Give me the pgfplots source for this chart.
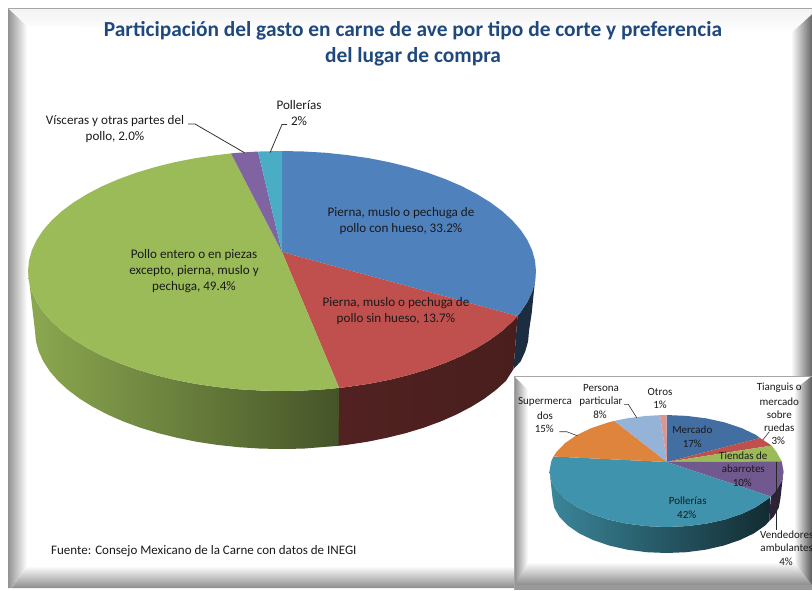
\documentclass[border=0pt]{standalone}
\usepackage{fontspec}
\setmainfont{Carlito}
\usepackage{pgfplots}
\pgfplotsset{compat=1.18}
\definecolor{mblue}{HTML}{4F81BD}
\definecolor{mred}{HTML}{C0504D}
\definecolor{mgreen}{HTML}{9BBB59}
\definecolor{mpurple}{HTML}{8064A2}
\definecolor{mcyan}{HTML}{4BACC6}
\definecolor{ttl}{HTML}{1F497D}
\definecolor{txt}{HTML}{1A1A1A}
\definecolor{inorange}{HTML}{DF843D}
\definecolor{inteal}{HTML}{3F93AD}
\newcommand{\lab}[3]{\node[inner sep=0pt,text=txt,font=\fontsize{13.1}{15}\selectfont] at (axis cs:#1,#2) {#3};}
\newcommand{\labs}[3]{\node[inner sep=0pt,text=txt,font=\fontsize{11}{13}\selectfont] at (axis cs:#1,#2) {#3};}
\begin{document}
\begin{tikzpicture}
\useasboundingbox (0,0) rectangle (812pt,590pt);
\begin{axis}[at={(0,0)},anchor=south west,scale only axis,width=812pt,height=590pt,
  xmin=0,xmax=812,ymin=0,ymax=590,y dir=reverse,axis lines=none,clip=false,no markers]
% ---------- main frame
\addplot[draw=none,left color=gray!85,right color=white] coordinates {(8,8)(27,26)(27,566)(12,588)(8,588)};
\addplot[draw=none,top color=white,bottom color=gray!90] coordinates {(27,566)(791,566)(812,588)(12,588)};
\addplot[draw=none,left color=white,right color=black!60] coordinates {(791,33)(812,14)(812,588)(791,566)};
\addplot[draw=none,top color=gray!10,bottom color=white] coordinates {(8,8)(812,8)(812,14)(791,33)(27,26)};
\addplot[gray!70,line width=0.8pt] coordinates {(8,8)(812,8)};
% ---------- main pie sides
\addplot[draw=none,fill=black!65!mblue] coordinates {(517.5,316)(520.7,312)(527.3,302.1)(532.1,291.8)(535,281.5)(536,271)(531.7,313)(529,331)(528.1,341.3)(525.2,351.5)(520.6,361.5)(513.5,369)};
\addplot[draw=none,left color=black!58!mred,right color=black!62!mred] coordinates {(339.1,387.9)(347.7,386.9)(368.9,383.8)(389.3,379.8)(409,374.9)(427.7,369.3)(445.3,362.9)(461.6,355.9)(476.6,348.1)(490.1,339.8)(502,331)(512.2,321.7)(517.5,316)(513.5,369)(505.9,380.9)(495.9,390)(484.3,398.7)(471.2,406.8)(456.7,414.4)(440.8,421.4)(423.7,427.7)(405.5,433.2)(386.4,437.9)(366.5,441.9)(345.9,445)(338.5,445.8)};
\addplot[draw=none,left color=black!10!mgreen,middle color=black!30!mgreen,right color=black!55!mgreen] coordinates {(28,271)(29,281.5)(31.9,291.8)(36.7,302.1)(43.3,312)(51.8,321.7)(62,331)(73.9,339.8)(87.4,348.1)(102.4,355.9)(118.7,362.9)(136.3,369.3)(155,374.9)(174.7,379.8)(195.1,383.8)(216.3,386.9)(237.9,389.2)(259.9,390.5)(282,391)(304.1,390.5)(326.1,389.2)(339.1,387.9)(338.5,445.8)(303.5,448.6)(282,449)(260.5,448.6)(239.1,447.2)(218.1,445)(197.5,441.9)(177.6,437.9)(158.5,433.2)(140.3,427.7)(123.2,421.4)(107.3,414.4)(92.8,406.8)(79.7,398.7)(68.1,390)(58.1,380.9)(49.9,371.4)(43.4,361.5)(38.8,351.5)(35.9,341.3)(35,331)};
% ---------- main pie top
\addplot[draw=none,fill=mblue] coordinates {(282,252)(282,151)(304.1,151.5)(326.1,152.8)(347.7,155.1)(368.9,158.2)(389.3,162.2)(409,167.1)(427.7,172.7)(445.3,179.1)(461.6,186.1)(476.6,193.9)(490.1,202.2)(502,211)(512.2,220.3)(520.7,230)(527.3,239.9)(532.1,250.2)(535,260.5)(536,271)(535,281.5)(532.1,291.8)(527.3,302.1)(520.7,312)(517.5,316)};
\addplot[draw=none,fill=mred] coordinates {(282,252)(517.5,316)(512.2,321.7)(502,331)(490.1,339.8)(476.6,348.1)(461.6,355.9)(445.3,362.9)(427.7,369.3)(409,374.9)(389.3,379.8)(368.9,383.8)(347.7,386.9)(339.1,387.9)};
\addplot[draw=none,fill=mgreen] coordinates {(282,252)(339.1,387.9)(326.1,389.2)(304.1,390.5)(282,391)(259.9,390.5)(237.9,389.2)(216.3,386.9)(195.1,383.8)(174.7,379.8)(155,374.9)(136.3,369.3)(118.7,362.9)(102.4,355.9)(87.4,348.1)(73.9,339.8)(62,331)(51.8,321.7)(43.3,312)(36.7,302.1)(31.9,291.8)(29,281.5)(28,271)(29,260.5)(31.9,250.2)(36.7,239.9)(43.3,230)(51.8,220.3)(62,211)(73.9,202.2)(87.4,193.9)(102.4,186.1)(118.7,179.1)(136.3,172.7)(155,167.1)(174.7,162.2)(195.1,158.2)(216.3,155.1)(231,153.4)};
\addplot[draw=none,fill=mpurple] coordinates {(282,252)(231,153.4)(237.9,152.8)(258,151.5)};
\addplot[draw=none,fill=mcyan] coordinates {(282,252)(258,151.5)(259.9,151.5)(282,151)};
% ---------- main leaders
\addplot[black!80,line width=0.8pt] coordinates {(188,124)(195,124)(245,153)};
\addplot[black!80,line width=0.8pt] coordinates {(287,124.5)(282,124.5)(270,152.7)};
% ---------- inset frame
\addplot[draw=none,fill=white] coordinates {(514,376)(812,376)(812,590)(514,590)};
\addplot[draw=none,left color=gray!90,right color=white] coordinates {(514,376)(528,390)(528,562)(514,590)};
\addplot[draw=none,left color=white,right color=black!65] coordinates {(794,390)(812,376)(812,590)(794,562)};
\addplot[draw=none,top color=white,bottom color=gray!90] coordinates {(528,562)(794,562)(812,585)(516,585)};
\addplot[draw=none,fill=gray!80] coordinates {(514,585)(812,585)(812,590)(514,590)};
\addplot[gray!70,line width=0.8pt] coordinates {(514,590)(514,376)(812,376)};
% ---------- inset sides
\addplot[draw=none,fill=black!65!mpurple] coordinates {(770.7,496.4)(776.4,490.2)(781.7,480.7)(783.5,471)(780.5,498)(778.8,507.6)(773.6,516.8)(769.3,521)};
\addplot[draw=none,left color=black!22!mcyan,middle color=black!50!mcyan,right color=black!75!mcyan] coordinates {(549.5,471)(551.3,480.7)(556.6,490.2)(565.2,499)(576.9,507)(591.3,513.9)(608,519.5)(626.5,523.6)(646.2,526.1)(666.5,527)(686.8,526.1)(706.5,523.6)(725,519.5)(741.7,513.9)(756.1,507)(767.8,499)(770.7,496.4)(769.3,521)(765.2,525.5)(753.8,533.4)(739.8,540.1)(723.5,545.6)(705.5,549.7)(686.3,552.2)(666.5,553)(646.7,552.2)(627.5,549.7)(609.5,545.6)(593.2,540.1)(579.2,533.4)(567.8,525.5)(559.4,516.8)(554.2,507.6)(552.5,498)};
% ---------- inset top
\addplot[draw=none,fill=black!15!mblue] coordinates {(667,462)(666.5,415)(686.8,415.9)(706.5,418.4)(725,422.5)(741.7,428.1)(756.1,435)(760,438)};
\addplot[draw=none,fill=mred] coordinates {(667,462)(760,438)(767.8,443)(771.5,445.6)};
\addplot[draw=none,fill=mgreen] coordinates {(667,462)(771.5,445.6)(776.4,451.8)(781.7,461.3)};
\addplot[draw=none,fill=black!12!mpurple] coordinates {(667,462)(781.7,461.3)(783.5,471)(781.7,480.7)(776.4,490.2)(770.7,496.4)};
\addplot[draw=none,fill=inteal] coordinates {(667,462)(770.7,496.4)(767.8,499)(756.1,507)(741.7,513.9)(725,519.5)(706.5,523.6)(686.8,526.1)(666.5,527)(646.2,526.1)(626.5,523.6)(608,519.5)(591.3,513.9)(576.9,507)(565.2,499)(556.6,490.2)(551.3,480.7)(549.5,471)(551.3,461.3)(553.5,456.5)};
\addplot[draw=none,fill=inorange] coordinates {(667,462)(553.5,456.5)(556.6,451.8)(565.2,443)(576.9,435)(591.3,428.1)(608,422.5)(614.3,420.9)};
\addplot[draw=none,fill=mblue!60!white] coordinates {(667,462)(614.3,420.9)(626.5,418.4)(646.2,415.9)(660,415.2)};
\addplot[draw=none,fill=mred!60!white] coordinates {(667,462)(660,415.2)(666.5,415)};
% ---------- inset leaders
\addplot[black!80,line width=0.6pt] coordinates {(624,404.3)(628.3,404.3)(636.7,417.7)};
\addplot[black!80,line width=0.6pt] coordinates {(559.3,431.7)(566.7,431.7)(577.3,435.7)};
\addplot[black!80,line width=0.6pt] coordinates {(769.3,431.7)(762.7,440)};
\addplot[black!85,line width=0.7pt] coordinates {(776.7,461.7)(776.7,530)};
% ---------- text
\node[inner sep=0pt,text=ttl,font=\fontsize{21.4}{24}\selectfont\bfseries] at (axis cs:413,31) {Participación del gasto en carne de ave por tipo de corte y preferencia};
\node[inner sep=0pt,text=ttl,font=\fontsize{21.4}{24}\selectfont\bfseries] at (axis cs:413,57) {del lugar de compra};
\lab{299}{105}{Pollerías}
\lab{299}{121}{2\%}
\lab{115}{121}{Vísceras y otras partes del}
\lab{115}{137}{pollo, 2.0\%}
\lab{401}{213}{Pierna, muslo o pechuga de}
\lab{401}{229}{pollo con hueso, 33.2\%}
\lab{194}{255}{Pollo entero o en piezas}
\lab{194}{271}{excepto, pierna, muslo y}
\lab{194}{287}{pechuga, 49.4\%}
\lab{396}{303}{Pierna, muslo o pechuga de}
\lab{396}{319}{pollo sin hueso, 13.7\%}
\node[inner sep=0pt,text=txt,anchor=west,font=\fontsize{13}{15}\selectfont] at (axis cs:51,551) {Fuente: Consejo Mexicano de la Carne con datos de INEGI};
\labs{601}{387.7}{Persona}
\labs{601}{401.7}{particular}
\labs{600}{415}{8\%}
\labs{660}{391.7}{Otros}
\labs{660}{405}{1\%}
\labs{545}{402}{Supermerca}
\labs{545}{415.7}{dos}
\labs{544.3}{429}{15\%}
\labs{779.3}{387.7}{Tianguis o}
\labs{779.3}{401.7}{mercado}
\labs{779.3}{415}{sobre}
\labs{779.3}{428}{ruedas}
\labs{778.3}{441}{3\%}
\labs{692.3}{430}{Mercado}
\labs{692.3}{443.3}{17\%}
\labs{743.3}{455.7}{Tiendas de}
\labs{743.3}{469}{abarrotes}
\labs{742.3}{482.3}{10\%}
\labs{687.7}{501}{Pollerías}
\labs{686.7}{514.3}{42\%}
\labs{786.7}{535}{Vendedores}
\labs{786.7}{548}{ambulantes}
\labs{786}{561.7}{4\%}
\end{axis}
\end{tikzpicture}
\end{document}
